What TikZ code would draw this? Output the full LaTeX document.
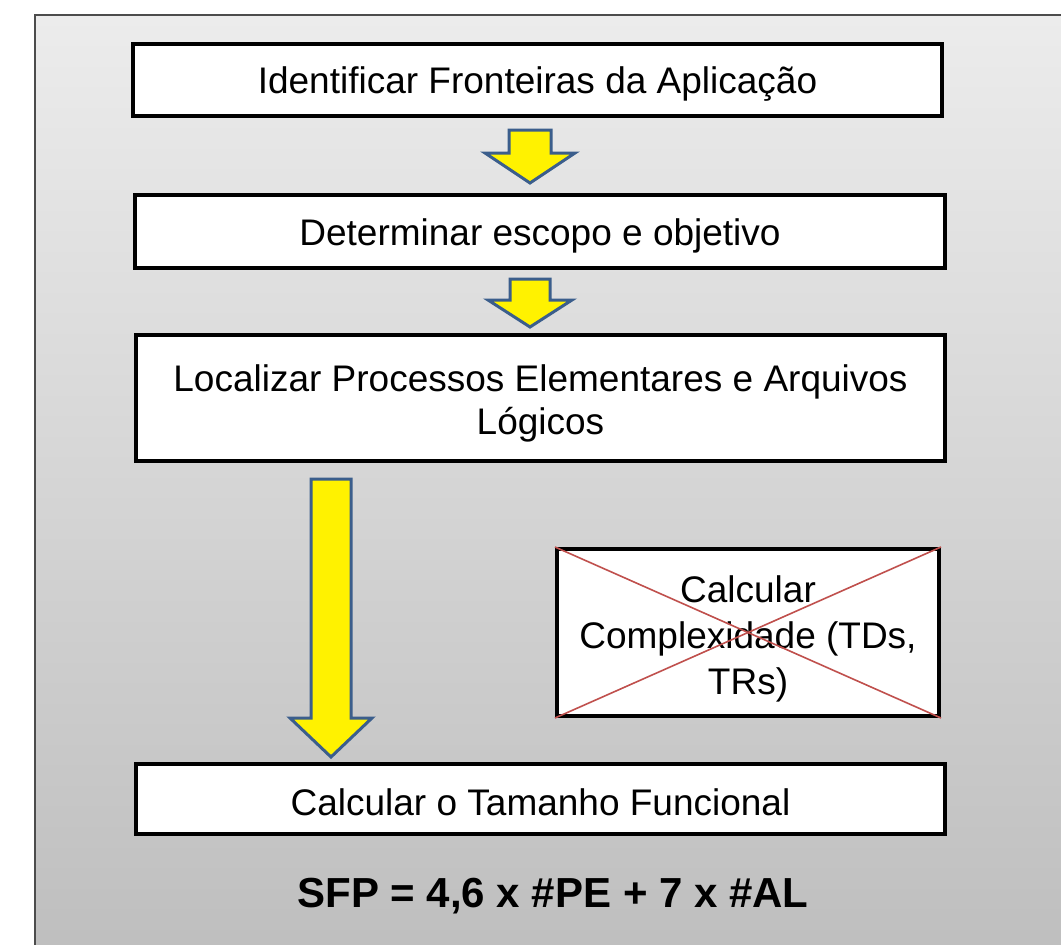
\documentclass[tikz,border=0pt]{standalone}
\usepackage{fontspec}
\setmainfont{Liberation Sans}
\usetikzlibrary{calc}
\definecolor{arrowblue}{RGB}{59,94,140}
\definecolor{xred}{RGB}{192,80,77}
\definecolor{bgtop}{RGB}{236,236,236}
\definecolor{bgbot}{RGB}{190,190,190}
\tikzset{
  stepbox/.style={draw=black, line width=4pt, fill=white, rectangle, inner sep=0pt},
  boxtext/.style={inner sep=0pt, align=center, font=\fontsize{37}{43}\selectfont},
  blockarrow/.style={draw=arrowblue, line width=3pt, fill=yellow, line join=miter},
  crossline/.style={draw=xred, line width=1.6pt},
}
\newcommand{\blockdown}[6]{% center x, top y, head base y, tip y, half shaft, half head
  \path[blockarrow] (#1-#5,#2) -- (#1+#5,#2) -- (#1+#5,#3) -- (#1+#6,#3) -- (#1,#4) -- (#1-#6,#3) -- (#1-#5,#3) -- cycle;}
\begin{document}
\begin{tikzpicture}[x=1pt,y=-1pt]
\useasboundingbox (0,0) rectangle (1061,945);
\clip (0,0) rectangle (1061,945);
\fill[white] (0,0) rectangle (1061,945);
\shade[top color=bgtop, bottom color=bgbot] (35,15) rectangle (1075,960);
\draw[draw=black!70, line width=1.2pt] (35,960) -- (35,15) -- (1075,15);

\node[stepbox, minimum width=809pt, minimum height=72pt] (b1) at (537.5,80) {};
\node[boxtext] (t1) at ([yshift=-4pt]b1.center) {Identificar Fronteiras da Aplicação};
\node[stepbox, minimum width=810pt, minimum height=73pt] (b2) at (540,231.5) {};
\node[boxtext] (t2) at ([yshift=-4pt]b2.center) {Determinar escopo e objetivo};
\node[stepbox, minimum width=809pt, minimum height=126pt] (b3) at (540.5,398) {};
\node[boxtext] (t3) at ([yshift=-5pt]b3.center) {Localizar Processos Elementares e Arquivos\\Lógicos};
\node[stepbox, minimum width=382pt, minimum height=167pt] (b4) at (748,632.5) {};
\node[boxtext, font=\fontsize{37}{46}\selectfont] (t4) at ([yshift=-6pt]b4.center) {Calcular\\Complexidade (TDs,\\TRs)};
\node[stepbox, minimum width=809pt, minimum height=70pt] (b5) at (540.5,799) {};
\node[boxtext] (t5) at ([yshift=-3pt]b5.center) {Calcular o Tamanho Funcional};
\draw[crossline] (b4.north west) -- (b4.south east);
\draw[crossline] (b4.south west) -- (b4.north east);

\node[font=\fontsize{42}{48}\selectfont\bfseries] (formula) at (553,896) {SFP = 4,6 x \#PE + 7 x \#AL};

\blockdown{530}{130}{153}{183}{21}{45}
\blockdown{530}{279}{300}{327}{20}{42}
\blockdown{331}{479}{718}{757}{20}{41}
\end{tikzpicture}
\end{document}
